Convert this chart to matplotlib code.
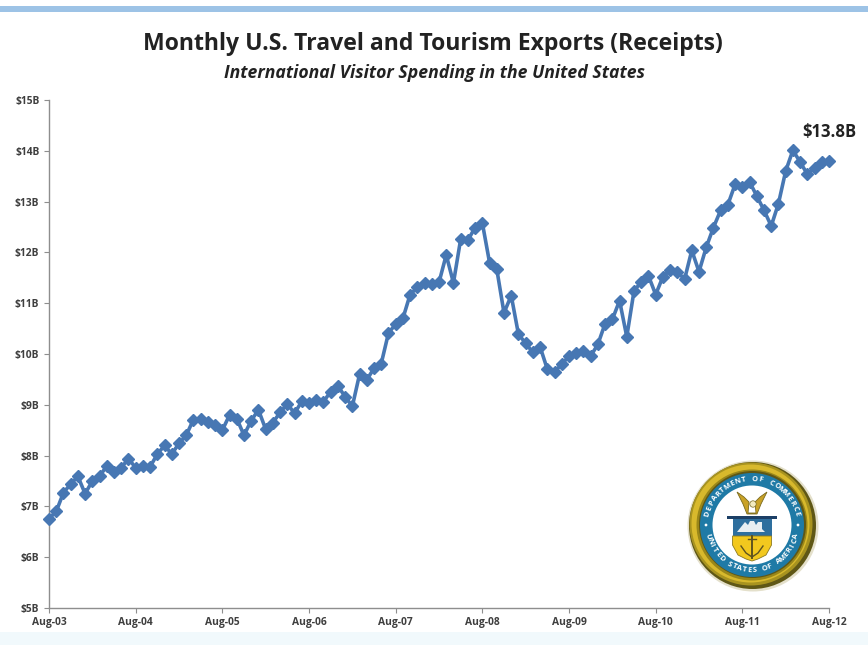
import numpy as np
import matplotlib
matplotlib.use('Agg')
import matplotlib.pyplot as plt
from matplotlib.patches import Circle, Polygon, Rectangle

plt.rcParams['font.family'] = ['Open Sans', 'DejaVu Sans']

W, H = 868, 645

# monthly receipts in $B, Aug-03 to Aug-12
receipts_03_05 = [6.76, 6.90, 7.27, 7.44, 7.59, 7.25, 7.50, 7.59, 7.80, 7.67, 7.76, 7.94,
                  7.76, 7.80, 7.78, 8.03, 8.20, 8.03, 8.24, 8.40, 8.71, 8.73, 8.67, 8.60,
                  8.50, 8.80, 8.73, 8.40, 8.69, 8.90, 8.52, 8.65, 8.85, 9.02, 8.83, 9.07]
receipts_06_08 = [9.03, 9.09, 9.06, 9.26, 9.37, 9.16, 8.97, 9.60, 9.49, 9.72, 9.81, 10.41,
                  10.59, 10.70, 11.17, 11.31, 11.40, 11.38, 11.41, 11.95, 11.40, 12.26, 12.24, 12.49,
                  12.58, 11.80, 11.67, 10.81, 11.15, 10.39, 10.21, 10.03, 10.14, 9.70, 9.65, 9.80]
receipts_09_12 = [9.96, 10.01, 10.06, 9.96, 10.19, 10.60, 10.68, 11.05, 10.34, 11.24, 11.42, 11.54,
                  11.17, 11.52, 11.65, 11.62, 11.47, 12.04, 11.62, 12.10, 12.49, 12.83, 12.94, 13.34,
                  13.28, 13.39, 13.11, 12.83, 12.52, 12.96, 13.60, 14.01, 13.78, 13.54, 13.67, 13.77,
                  13.80]
receipts = receipts_03_05 + receipts_06_08 + receipts_09_12

x_labels = ['Aug-03', 'Aug-04', 'Aug-05', 'Aug-06', 'Aug-07', 'Aug-08', 'Aug-09', 'Aug-10', 'Aug-11', 'Aug-12']
y_values = [5, 6, 7, 8, 9, 10, 11, 12, 13, 14, 15]
y_labels = ['\\$%dB' % v for v in y_values]

title = 'Monthly U.S. Travel and Tourism Exports (Receipts)'
subtitle = 'International Visitor Spending in the United States'
last_label = '\\$13.8B'

BLUE = '#4777B3'
AXIS = '#8E8E8E'
TICK_TEXT = '#3F3F3F'
RING = '#1F7AA6'
GOLD = '#D8B92C'


def pxText(fig, x, y, s, **kw):
    fig.text(x / W, 1 - y / H, s, **kw)


def arcText(ax, s, radius, start, end, bottom=False):
    # one rotated text per letter around the seal
    for ch, a in zip(s, np.linspace(start, end, len(s))):
        t = np.radians(a)
        rot = a + 90 if bottom else a - 90
        ax.text(radius * np.cos(t), radius * np.sin(t), ch, color='white', fontsize=5.4,
                fontweight='bold', ha='center', va='center', rotation=rot,
                rotation_mode='anchor', zorder=8)


def drawSeal(fig, cx, cy, size):
    ax = fig.add_axes([(cx - size) / W, 1 - (cy + size) / H, 2 * size / W, 2 * size / H])
    ax.set_xlim(-size, size)
    ax.set_ylim(-size, size)
    ax.axis('off')

    # soft shadow and gold rim, lit from the upper left
    ax.add_patch(Circle((1, -1), 65.5, fc='#E4E0CB', ec='none', zorder=2))
    ax.add_patch(Circle((0.5, -0.5), 63.5, fc='#5F5716', ec='none', zorder=2))
    ax.add_patch(Circle((-1, 1), 61.5, fc='#A8931F', ec='none', zorder=2))
    ax.add_patch(Circle((-1.5, 1.5), 59, fc=GOLD, ec='none', zorder=2))
    ax.add_patch(Circle((0, 0), 55.5, fc='#9A8719', ec='none', zorder=2))
    ax.add_patch(Circle((0.5, 0.5), 53.5, fc='#5F5716', ec='none', zorder=2))
    ax.add_patch(Circle((0, 0), 52, fc=RING, ec='none', zorder=3))
    ax.add_patch(Circle((0, 0), 39.5, fc='white', ec='none', zorder=4))

    arcText(ax, 'DEPARTMENT OF COMMERCE', 45.5, 166, 14)
    arcText(ax, 'UNITED STATES OF AMERICA', 45.5, 194, 346, bottom=True)
    ax.add_patch(Circle((-46, 0), 1.4, fc='white', ec='none', zorder=8))
    ax.add_patch(Circle((46, 0), 1.4, fc='white', ec='none', zorder=8))

    # eagle
    ax.add_patch(Polygon([(-15, 33), (-8, 28), (-3, 23), (-4, 12), (4, 12), (3, 23), (8, 28), (15, 33),
                          (9, 21), (5, 11), (-5, 11), (-9, 21)], fc='#C9A227', ec='#7A6A1E', lw=0.6, zorder=5))
    ax.add_patch(Circle((1, 21), 3.2, fc='#F3EBC0', ec='#7A6A1E', lw=0.5, zorder=6))

    # shield: navy chief, blue field with ship, gold base with anchor
    ax.add_patch(Rectangle((-25, 6), 50, 3, fc='#1C3F66', ec='none', zorder=5))
    ax.add_patch(Rectangle((-19.5, -11), 39, 17.5, fc='#2E6F9E', ec='none', zorder=5))
    ax.add_patch(Polygon([(-19.5, -11), (19.5, -11), (19.5, -20), (14, -30), (6, -34), (0, -36),
                          (-6, -34), (-14, -30), (-19.5, -20)], fc='#F2C81E', ec='#8D7A20', lw=0.6, zorder=5))
    ax.add_patch(Polygon([(-15, -7), (13, -7), (10, -4), (10, 3), (6, 3), (4, 0), (2, 4), (-2, 4), (-4, 0),
                          (-7, 3), (-11, -2)], fc='#E8EEF2', ec='none', zorder=6))
    ax.plot([0, 0], [-11, -33], color='#5E5320', lw=1.4, zorder=6)
    ax.plot([-11, -6, 0, 6, 11], [-21, -28, -32, -28, -21], color='#5E5320', lw=1.0, zorder=6)
    ax.plot([-4, 4], [-14, -14], color='#5E5320', lw=1.0, zorder=6)


fig = plt.figure(figsize=(W / 100, H / 100), dpi=100, facecolor='white')

# blue rule at the top, pale strip along the bottom
fig.add_artist(Rectangle((0, 1 - 11.5 / H), 1, 5.5 / H, transform=fig.transFigure, fc='#9DC3E6', ec='none'))
fig.add_artist(Rectangle((0, 0), 1, 13 / H, transform=fig.transFigure, fc='#F1F9FC', ec='none'))

ax = fig.add_axes([49 / W, 1 - 608 / H, 780 / W, 508 / H])
ax.patch.set_alpha(0)
months = np.arange(len(receipts))
ax.plot(months, receipts, color=BLUE, lw=2.6, marker='D', ms=6.2, mec=BLUE, mfc=BLUE, clip_on=False, zorder=3)

ax.set_xlim(0, 108)
ax.set_ylim(5, 15)
ax.set_xticks(np.arange(0, 109, 12))
ax.set_xticklabels(x_labels)
ax.set_yticks(y_values)
ax.set_yticklabels(y_labels)
ax.tick_params(axis='both', length=3.5, width=0.8, color=AXIS, labelsize=7.4, labelcolor=TICK_TEXT)
ax.tick_params(axis='x', pad=3)
ax.tick_params(axis='y', pad=3.5)
for lab in ax.get_xticklabels() + ax.get_yticklabels():
    lab.set_fontweight('bold')
ax.spines['top'].set_visible(False)
ax.spines['right'].set_visible(False)
for side in ['left', 'bottom']:
    ax.spines[side].set_color(AXIS)
    ax.spines[side].set_linewidth(1.0)

ax.text(108, 14.37, last_label, ha='center', va='center', fontsize=12, fontweight='bold', color='#222222')

pxText(fig, 433, 44, title, ha='center', va='center', fontsize=16.6, fontweight='bold', color='#222222')
pxText(fig, 434, 73, subtitle, ha='center', va='center', fontsize=12.7, fontweight='bold', style='italic', color='#222222')

drawSeal(fig, 752, 525, 68)

fig.savefig('out.png', dpi=100)
